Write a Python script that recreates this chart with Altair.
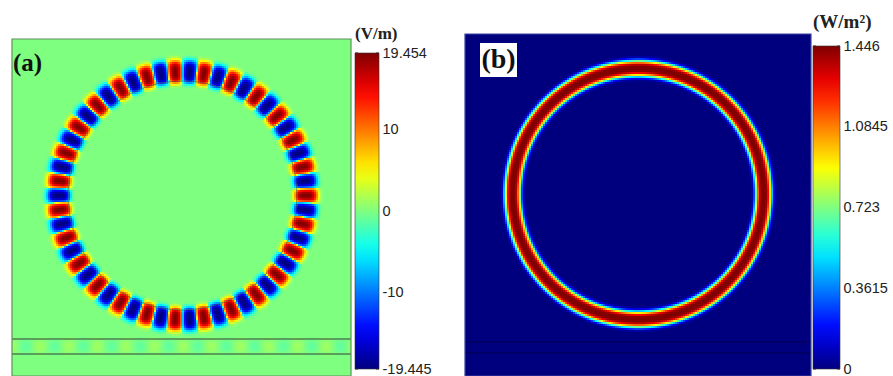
import numpy as np
import pandas as pd
import altair as alt

# ---------------- values ----------------
# (a) electric-field snapshot (V/m)
E_MAX = 19.454
E_MIN = -19.445
E_TICKS = [19.454, 10, 0, -10, -19.445]
# (b) intensity (W/m^2)
I_MAX = 1.446
I_MIN = 0.0
I_TICKS = [1.446, 1.0845, 0.723, 0.3615, 0]

# simulation windows (arbitrary length units)
A_SIZE = [339, 337]
B_SIZE = [346, 342]
# ring: centre x, centre y, mean radius
A_RING = [170.5, 180.5, 123.0]
B_RING = [173.0, 182.0, 125.5]
A_MODE = 27            # azimuthal order -> 54 alternating lobes
A_RING_EDGE = 114.5    # inner boundary of ring waveguide
A_BUS = [22, 37]       # bus waveguide edges (y)
B_BUS = [23, 34]
BUS_PERIOD = 28.6
BUS_AMP = 1.2          # faint field in the bus waveguide (V/m)

JET = ["#00007f", "#0000ff", "#00ffff", "#ffff00", "#ff0000", "#7f0000"]
JET_POS = [0, 0.125, 0.375, 0.625, 0.875, 1]

STEP = 2
PANEL_H = 342


def grid(w, h):
    xs = np.arange(0, w, STEP)
    ys = np.arange(0, h, STEP)
    X0, Y0 = np.meshgrid(xs, ys)
    return X0, Y0, X0 + STEP / 2, Y0 + STEP / 2


def to_df(X0, Y0, V, w, h, thr):
    m = np.abs(V) > thr
    df = pd.DataFrame({"x": X0[m].astype(float), "y": Y0[m].astype(float),
                       "v": np.round(V[m], 3)})
    df["x2"] = np.minimum(df["x"] + STEP, w)
    df["y2"] = np.minimum(df["y"] + STEP, h)
    return df


# ---- field (a)
X0, Y0, X, Y = grid(*A_SIZE)
cx, cy, R = A_RING
r = np.hypot(X - cx, Y - cy)
th = np.arctan2(Y - cy, X - cx)
d = r - R
wr = np.where(d < 0, 11.0, 12.5)
prof = np.exp(-(np.abs(d) / wr) ** 4)
c = np.cos(A_MODE * th)
E = E_MAX * np.sign(c) * np.abs(c) ** 0.45 * prof
bus_c = np.mean(A_BUS)
E = E + BUS_AMP * np.cos(2 * np.pi * X / BUS_PERIOD) * np.exp(-((Y - bus_c) / 7.0) ** 2)
cellsA = to_df(X0, Y0, E, A_SIZE[0], A_SIZE[1], 0.15)

# ---- field (b)
X0, Y0, X, Y = grid(*B_SIZE)
cx, cy, R = B_RING
r = np.hypot(X - cx, Y - cy)
d = r - R
I = I_MAX * np.exp(-(np.abs(d) / 8.2) ** 3.5)
cellsB = to_df(X0, Y0, I, B_SIZE[0], B_SIZE[1], 0.01)

bgA = pd.DataFrame({"x": [0.0], "x2": [float(A_SIZE[0])], "y": [0.0], "y2": [float(A_SIZE[1])], "v": [0.0]})
bgB = pd.DataFrame({"x": [0.0], "x2": [float(B_SIZE[0])], "y": [0.0], "y2": [float(B_SIZE[1])], "v": [0.0]})
busA = pd.DataFrame({"x": [0.0, 0.0], "x2": [float(A_SIZE[0])] * 2, "y": [float(v) for v in A_BUS]})
busB = pd.DataFrame({"x": [0.0, 0.0], "x2": [float(B_SIZE[0])] * 2, "y": [float(v) for v in B_BUS]})
ringA = pd.DataFrame({"x": [A_RING[0]], "y": [A_RING[1]]})


def jet_scale(lo, hi):
    return alt.Scale(domain=[lo + t * (hi - lo) for t in JET_POS], range=JET, interpolate="rgb")


def legend(title, values, lx, ly, glen, gthick, tsize, tpad):
    # colour bar: gradient + unit title (tick labels are drawn by cbar_axis)
    return alt.Legend(
        title=title, values=values, orient="none", legendX=lx, legendY=ly,
        direction="vertical", gradientLength=glen, gradientThickness=gthick,
        titleFont="Liberation Serif", titleFontSize=tsize, titleFontWeight="bold",
        titleColor="#222222", titlePadding=tpad,
        labelExpr="''", labelFontSize=15, labelOffset=3, labelOverlap=False,
        gradientStrokeColor="#333333", gradientStrokeWidth=0.6,
    )


def cbar_axis(ticks, lo, hi, top, bottom, offset, x_left, x_right):
    """Tick labels + tiny edge ticks of a colour bar, on its own value scale."""
    df = pd.DataFrame({"v": ticks})
    yv = alt.Y("v:Q", scale=alt.Scale(domain=[lo, hi], range=[bottom, top], nice=False, zero=False),
               axis=alt.Axis(orient="right", offset=offset, values=ticks,
                             labelExpr="toString(datum.value)", domain=False, ticks=False,
                             grid=False, title=None, labelPadding=3, labelFlush=False,
                             labelOverlap=False, labelFont="Liberation Sans", labelFontSize=14.5,
                             labelColor="#222222"))
    left = alt.Chart(df).mark_rule(color="#333333", strokeWidth=1).encode(
        y=yv, x=alt.value(x_left), x2=alt.value(x_left + 3))
    right = alt.Chart(df).mark_rule(color="#333333", strokeWidth=1).encode(
        y=alt.Y("v:Q"), x=alt.value(x_right - 3), x2=alt.value(x_right))
    return alt.layer(left, right)


def panel(cells, bg, bus, size, cscale, leg, border, bus_color):
    xs = alt.X("x:Q", scale=alt.Scale(domain=[0, size[0]], nice=False, zero=False), axis=None)
    ys = alt.Y("y:Q", scale=alt.Scale(domain=[0, PANEL_H], nice=False, zero=False), axis=None)
    col = alt.Color("v:Q", scale=cscale, legend=leg)
    back = alt.Chart(bg).mark_rect().encode(x=xs, x2="x2", y=ys, y2="y2", color=col)
    field = alt.Chart(cells).mark_rect().encode(x=xs, x2="x2", y=ys, y2="y2", color=col)
    lines = alt.Chart(bus).mark_rule(color=bus_color, strokeWidth=1.3).encode(x=xs, x2="x2", y=ys)
    frame = alt.Chart(bg).mark_rect(filled=False, stroke=border, strokeWidth=1.2).encode(
        x=xs, x2="x2", y=ys, y2="y2")
    return [back, field, lines], frame, xs, ys


# ---------------- panel (a) ----------------
layersA, frameA, xsA, ysA = panel(
    cellsA, bgA, busA, A_SIZE, jet_scale(E_MIN, E_MAX),
    legend("(V/m)", E_TICKS, 343, -8, 316, 24, 17, 10), "#5f8f5f", "#4e7e4e")
ring_line = alt.Chart(ringA).mark_point(
    shape="circle", size=(2 * A_RING_EDGE) ** 2, filled=False, color="#3f6a3f",
    strokeWidth=1, opacity=0.6).encode(x=xsA, y=ysA)
labA = alt.Chart(pd.DataFrame({"t": ["(a)"]})).mark_text(
    font="Liberation Serif", fontSize=25, fontWeight="bold", align="left", baseline="middle",
    color="#111111").encode(text="t:N", x=alt.value(1), y=alt.value(29))
spacer = alt.Chart(pd.DataFrame({"t": ["(a)"]})).mark_text(
    fontSize=10, align="left", baseline="top", opacity=0).encode(
    text="t:N", x=alt.value(1), y=alt.value(-21))
fieldA = alt.layer(*layersA, ring_line, frameA, labA, spacer)
chartA = (
    alt.layer(fieldA, cbar_axis(E_TICKS, E_MIN, E_MAX, 19, 335, 28, 343, 367))
    .resolve_scale(y="independent")
    .properties(width=A_SIZE[0], height=PANEL_H)
)

# ---------------- panel (b) ----------------
layersB, frameB, xsB, ysB = panel(
    cellsB, bgB, busB, B_SIZE, jet_scale(I_MIN, I_MAX),
    legend("(W/m²)", I_TICKS, 348, -21, 323, 27, 19, 14), "#3a44a0", "#00005e")
boxB = alt.Chart(pd.DataFrame({"t": ["(b)"]})).mark_rect(color="white").encode(
    x=alt.value(15), x2=alt.value(52), y=alt.value(9), y2=alt.value(43))
labB = alt.Chart(pd.DataFrame({"t": ["(b)"]})).mark_text(
    font="Liberation Serif", fontSize=28, fontWeight="bold", align="center", baseline="middle",
    color="#111111").encode(text="t:N", x=alt.value(33.5), y=alt.value(26))
fieldB = alt.layer(*layersB, frameB, boxB, labB)
chartB = (
    alt.layer(fieldB, cbar_axis(I_TICKS, I_MIN, I_MAX, 12, 335, 29, 348, 375))
    .resolve_scale(y="independent")
    .properties(width=B_SIZE[0], height=PANEL_H)
)

chart = (
    alt.hconcat(chartA, chartB, spacing=32)
    .resolve_scale(color="independent")
    .properties(padding={"left": 11, "top": 13, "right": 0, "bottom": 0})
    .configure_view(stroke=None)
)

chart.save("out.html", embed_options={"renderer": "svg", "actions": False})
